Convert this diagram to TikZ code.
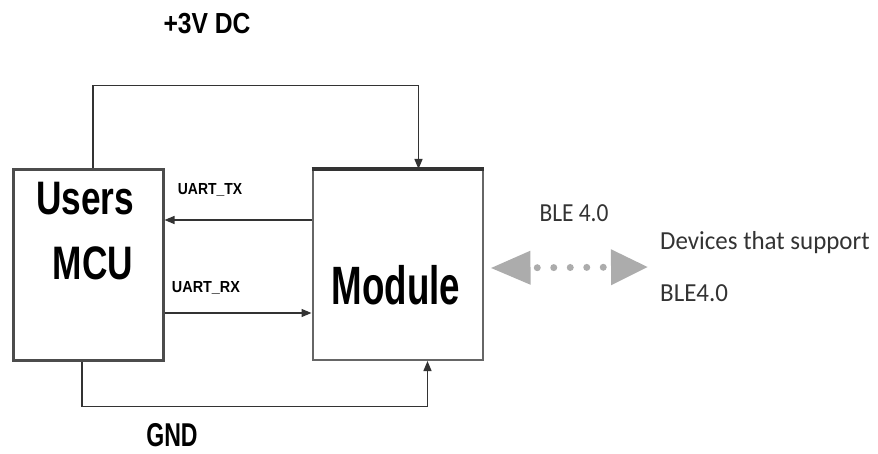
\documentclass[tikz,border=0pt]{standalone}
\usepackage{fontspec}
\setmainfont{Liberation Sans}
\newfontfamily\blefont{Carlito}
\usetikzlibrary{positioning, arrows.meta, calc}
\newcommand{\narrow}[2]{\scalebox{#1}[1]{#2}}

\begin{document}
\begin{tikzpicture}[x=1pt, y=-1pt, >={Triangle[length=10pt, width=8pt]},
  blk/.style={draw=black!60, line width=2pt, minimum height=190pt, inner sep=0pt},
  wire/.style={draw=black!80, line width=1.3pt},
  bold/.style={font=\bfseries\fontsize{#1}{#1}\selectfont, inner sep=0pt},
  bletxt/.style={font=\blefont\fontsize{26}{52}\selectfont, text=black!80, inner sep=0pt},
  ble/.style={draw=gray!65, line width=7pt, line cap=round,
    dash pattern=on 0pt off 16.5pt, dash phase=8pt,
    {Triangle[length=40pt, width=32pt]}-{Triangle[length=37pt, width=34pt]}}]
  \useasboundingbox (0,0) rectangle (878,454);
  % the two blocks
  \node[blk, line width=3pt, draw=black!70, minimum width=150pt] (mcu) at (88,265) {};
  \node[blk, minimum width=170pt, right=147pt of mcu] (mod) {};
  \draw[line width=3.5pt, black!80] (mod.north west) -- (mod.north east);
  \node[bold=47] (usr) at (85,199) {\narrow{0.75}{Users}};
  \node[bold=47] (mcutxt) at (93,263) {\narrow{0.75}{MCU}};
  \node[bold=54] (modtxt) at (396,285) {\narrow{0.68}{Module}};
  % supply and ground
  \node[bold=29] (vcc) at (207,24) {\narrow{0.85}{+3V DC}};
  \node[bold=33] (gnd) at (172,435) {\narrow{0.7}{GND}};
  \draw[wire, ->] ([xshift=5pt]mcu.north) -- ++(0,-83) -| ([xshift=21pt]mod.north);
  \draw[wire, ->] ([xshift=-6pt]mcu.south) -- ++(0,45) -| ([xshift=30pt]mod.south);
  % uart lines
  \draw[wire, ->] ([yshift=45pt]mod.west) -- ([yshift=45pt]mcu.east);
  \draw[wire, ->] ([yshift=-48pt]mcu.east) -- ([yshift=-48pt]mod.west);
  \node[bold=16] (tx) at (210,190) {\narrow{0.87}{UART\_TX}};
  \node[bold=16] (rx) at (206,288) {\narrow{0.9}{UART\_RX}};
  % wireless link
  \node[bletxt, anchor=west, align=left] (dev) at (660,267)
    {\narrow{0.96}{Devices that support}\\\narrow{0.96}{BLE4.0}};
  \node[bletxt] (blever) at (574,213) {\narrow{0.9}{BLE 4.0}};
  \draw[ble] ([xshift=7pt, yshift=-3pt]mod.east) -- ([xshift=-12pt]dev.west);
\end{tikzpicture}
\end{document}
